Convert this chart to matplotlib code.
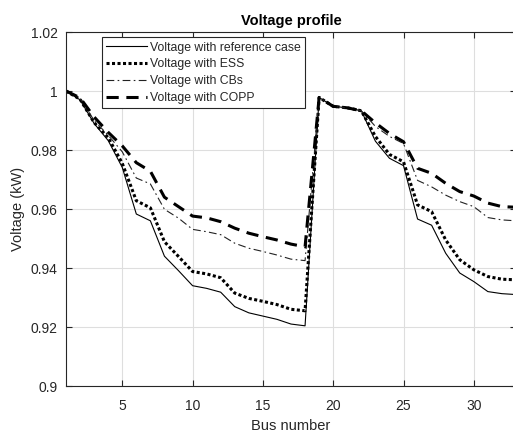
import matplotlib
matplotlib.use("Agg")
import matplotlib.pyplot as plt
import numpy as np

plt.rcParams['font.family'] = ['Liberation Sans', 'DejaVu Sans']

# Data
bus = np.arange(1, 34)
v_ref = [1.0, 0.997, 0.989, 0.9832, 0.9741, 0.9583, 0.9560, 0.9440, 0.9391, 0.9340,
         0.9331, 0.9318, 0.9269, 0.9248, 0.9237, 0.9226, 0.9210, 0.9204,
         0.9978, 0.9948, 0.9943, 0.9933, 0.9830, 0.9772, 0.9747, 0.9566, 0.9545,
         0.9450, 0.9383, 0.9354, 0.9320, 0.9313, 0.9310]
v_ess = [1.0, 0.9972, 0.9893, 0.9842, 0.9755, 0.9628, 0.9604, 0.9489, 0.9439, 0.9388,
         0.9380, 0.9367, 0.9315, 0.9297, 0.9287, 0.9276, 0.9260, 0.9255,
         0.9978, 0.9948, 0.9943, 0.9933, 0.9846, 0.9785, 0.9760, 0.9614, 0.9591,
         0.9495, 0.9428, 0.9394, 0.9371, 0.9362, 0.9360]
v_cb = [1.0, 0.9975, 0.9900, 0.9850, 0.9794, 0.9705, 0.9685, 0.9599, 0.9569, 0.9531,
        0.9523, 0.9513, 0.9484, 0.9467, 0.9456, 0.9444, 0.9430, 0.9425,
        0.9978, 0.9948, 0.9943, 0.9933, 0.9880, 0.9846, 0.9822, 0.9697, 0.9675,
        0.9647, 0.9625, 0.9608, 0.9571, 0.9563, 0.9560]
v_copp = [1.0, 0.9977, 0.9912, 0.9860, 0.9814, 0.9757, 0.9728, 0.9640, 0.9608, 0.9576,
          0.9570, 0.9557, 0.9535, 0.9518, 0.9506, 0.9495, 0.9481, 0.9472,
          0.9978, 0.9948, 0.9943, 0.9933, 0.9892, 0.9856, 0.9828, 0.9738, 0.9721,
          0.9687, 0.9659, 0.9644, 0.9620, 0.9608, 0.9606]

txt = '#262626'

fig = plt.figure(figsize=(5.13, 4.33), dpi=100)
ax = fig.add_axes([66 / 513, 1 - 386 / 433, 450 / 513, 354 / 433])

ax.plot(bus, v_ref, color='k', lw=0.8, label='Voltage with reference case')
ax.plot(bus, v_ess, color='k', lw=2.2, ls=(0, (1, 0.8)), label='Voltage with ESS')
ax.plot(bus, v_cb, color='#222222', lw=0.8, ls=(0, (7, 3, 1.5, 3)), label='Voltage with CBs')
ax.plot(bus, v_copp, color='k', lw=2.2, ls=(0, (4, 2.5)), label='Voltage with COPP')

ax.set_xlim(1, 33)
ax.set_ylim(0.9, 1.02)
ax.set_xticks([5, 10, 15, 20, 25, 30])
ax.set_yticks([0.9, 0.92, 0.94, 0.96, 0.98, 1.0, 1.02])
ax.set_yticklabels(['0.9', '0.92', '0.94', '0.96', '0.98', '1', '1.02'])
ax.grid(True, color='#dedede', lw=0.8)
ax.set_axisbelow(True)
ax.tick_params(direction='in', length=4, width=0.8, colors=txt, labelsize=10,
               top=True, right=True)
ax.tick_params(axis='x', pad=9)
ax.tick_params(axis='y', pad=6)
for s in ax.spines.values():
    s.set_color(txt)
    s.set_linewidth(0.8)

ax.set_title('Voltage profile', fontsize=10.5, fontweight='bold', color='k', pad=5)
ax.set_xlabel('Bus number', fontsize=10.5, color=txt, labelpad=5)
ax.set_ylabel('Voltage (kW)', fontsize=10.5, color=txt, labelpad=4)

leg = ax.legend(loc='upper left', bbox_to_anchor=(0.08, 0.985), fontsize=8.8,
                handlelength=3.35, handletextpad=0.2, labelspacing=0.39,
                borderpad=0.35, fancybox=False, framealpha=1, borderaxespad=0)
leg.get_frame().set_edgecolor(txt)
leg.get_frame().set_linewidth(0.8)
for t in leg.get_texts():
    t.set_color(txt)

fig.savefig('out.png', dpi=100)
